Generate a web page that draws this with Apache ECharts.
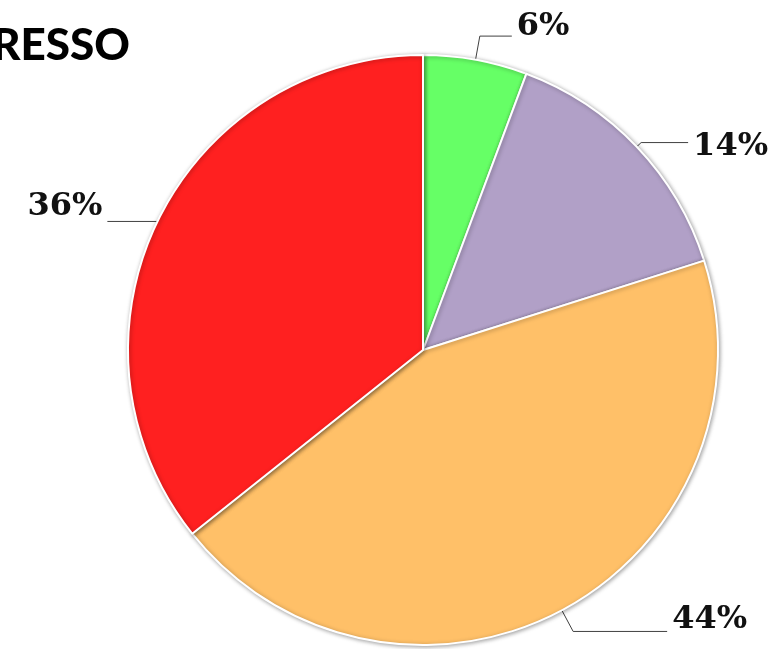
<!DOCTYPE html>
<html>
<head>
<meta charset="utf-8">
<style>html,body{margin:0;padding:0;background:#fff;}#c{width:775px;height:649px;}</style>
<script src="https://cdn.jsdelivr.net/npm/echarts@6/dist/echarts.min.js"></script>
</head>
<body>
<div id="c"></div>
<script>
const titleText = 'RESSO';
const categories = ['A', 'B', 'C', 'D'];
const values = [5.7, 14.4, 44.2, 35.7];
const colors = ['#66FF66', '#B1A0C7', '#FFC068', '#FF2020'];
const lineLen = [24, 6, 24, 1];
const lineLen2 = [32, 47, 94, 49];
// spacer placement: 'below' raises text above the line end, 'above' lowers it
const spacerPos = ['below', 'above', 'below', 'below'];
const spacerKey = ['s18', 's8', 's24', 's30'];

const chart = echarts.init(document.getElementById('c'), null, {renderer: 'canvas'});
chart.setOption({
  animation: false,
  backgroundColor: '#fff',
  title: {
    text: titleText, left: -13, top: 19,
    textStyle: {fontFamily: 'Lato', fontWeight: 900, fontSize: 44, color: '#000'}
  },
  series: [{
    type: 'pie',
    center: [423, 350],
    radius: [0, 295],
    startAngle: 90,
    clockwise: true,
    avoidLabelOverlap: false,
    data: categories.map((c, i) => ({
      name: c, value: values[i],
      itemStyle: {color: colors[i]},
      labelLine: {length: lineLen[i], length2: lineLen2[i]}
    })),
    itemStyle: {borderColor: '#fff', borderWidth: 2, shadowBlur: 4, shadowColor: 'rgba(0,0,0,0.35)', shadowOffsetX: 1, shadowOffsetY: 1},
    label: {
      show: true, position: 'outside', alignTo: 'none',
      formatter: p => {
        const t = '{v|' + Math.round(p.value) + '%}';
        const s = '{' + spacerKey[p.dataIndex] + '|}';
        return spacerPos[p.dataIndex] === 'below' ? t + '\n' + s : s + '\n' + t;
      },
      rich: {
        v: {fontFamily: 'DejaVu Serif', fontWeight: 'bold', fontSize: 32, lineHeight: 36, color: '#111'},
        s8: {height: 8, lineHeight: 8, fontSize: 1},
        s18: {height: 18, lineHeight: 18, fontSize: 1},
        s24: {height: 24, lineHeight: 24, fontSize: 1},
        s30: {height: 30, lineHeight: 30, fontSize: 1}
      },
      distanceToLabelLine: 5
    },
    labelLine: {show: true, smooth: false, lineStyle: {color: '#404040', width: 1}},
    emphasis: {disabled: true}
  }]
});
</script>
</body>
</html>
